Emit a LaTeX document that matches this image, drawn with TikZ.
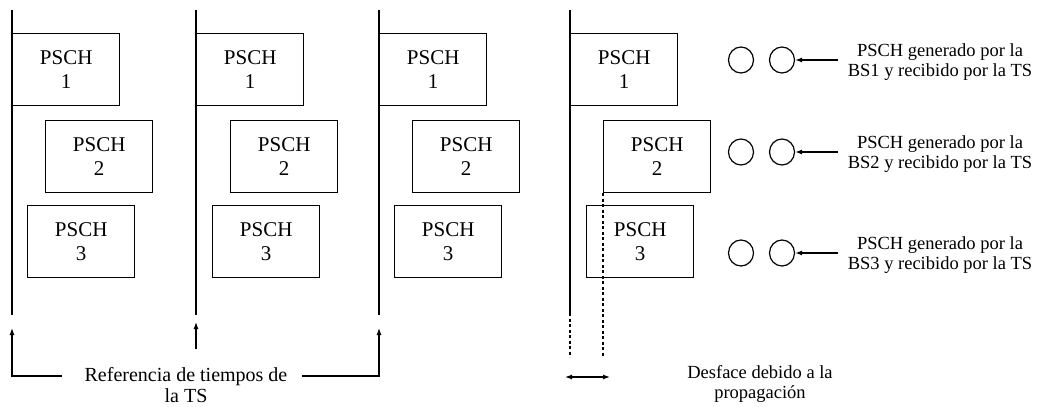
\documentclass[tikz,border=0pt]{standalone}
\usepackage{fontspec}
\setmainfont{Liberation Serif}
\usetikzlibrary{arrows.meta,shapes.geometric}
\begin{document}
\begin{tikzpicture}[x=1pt,y=-1pt,
  box/.style={draw,line width=1.4pt,minimum width=107pt,minimum height=72pt,anchor=north west,align=center,inner sep=0pt,
    font=\fontsize{21}{24}\selectfont},
  tline/.style={line width=1.2pt},
  dline/.style={line width=1.2pt,dash pattern=on 3pt off 2.5pt},
  arr/.style={line width=1.2pt,-{Latex[length=7pt,width=5pt]}},
  darr/.style={line width=1.2pt,{Latex[length=7pt,width=5pt]}-{Latex[length=7pt,width=5pt]}},
  ring/.style={draw,line width=1.2pt,ellipse,minimum width=25pt,minimum height=26pt,inner sep=0pt},
  lbl/.style={align=center,font=\fontsize{18.5}{20.5}\selectfont,inner sep=0pt},
  txt/.style={align=center,font=\fontsize{20}{20.5}\selectfont,inner sep=0pt}]
\useasboundingbox (0,0) rectangle (1045,407);
% group 1
\coordinate (t1) at (12,10); \coordinate (e1) at (12,315);
\draw[tline] (t1) -- (e1);
\node[box] (b11) at (12,33) {PSCH\\1};
\node[box] (b12) at (45,120) {PSCH\\2};
\node[box] (b13) at (27,205) {PSCH\\3};
% group 2
\coordinate (t2) at (196,10); \coordinate (e2) at (196,315);
\draw[tline] (t2) -- (e2);
\node[box] (b21) at (196,33) {PSCH\\1};
\node[box] (b22) at (230,120) {PSCH\\2};
\node[box] (b23) at (212,205) {PSCH\\3};
% group 3
\coordinate (t3) at (379,10); \coordinate (e3) at (379,315);
\draw[tline] (t3) -- (e3);
\node[box] (b31) at (379,33) {PSCH\\1};
\node[box] (b32) at (412,120) {PSCH\\2};
\node[box] (b33) at (394,205) {PSCH\\3};
% group 4
\coordinate (t4) at (570,10); \coordinate (e4) at (570,313);
\draw[tline] (t4) -- (e4);
\node[box] (b41) at (570,33) {PSCH\\1};
\node[box] (b42) at (603,120) {PSCH\\2};
\node[box] (b43) at (586,205) {PSCH\\3};
\coordinate (d4) at (570,357);
\draw[dline] (e4) -- (d4);
\coordinate (d5) at (603,357);
\draw[dline] (b42.south west) -- (d5);
% reference text and arrows
\node[txt] (ref) at (186,385) {Referencia de tiempos de\\la TS};
\coordinate (rl) at (62,376); \coordinate (a1) at (12,328);
\draw[arr] (rl) -| (a1);
\coordinate (rr) at (302,376); \coordinate (a3) at (379,328);
\draw[arr] (rr) -| (a3);
\coordinate (r2) at (196,349); \coordinate (a2) at (196,322);
\draw[arr] (r2) -- (a2);
% propagation offset
\coordinate (p1) at (565,377); \coordinate (p2) at (610,377);
\draw[darr] (p1) -- (p2);
\node[lbl] (desf) at (760,384) {Desface debido a la\\propagación};
% legend circles
\node[ring] (c11) at (741,60) {};
\node[ring] (c12) at (782,60) {};
\node[lbl] (l1) at (940,62) {PSCH generado por la\\BS1 y recibido por la TS};
\coordinate (s1) at (838,60);
\draw[arr] (s1) -- (c12.east);
\node[ring] (c21) at (741,152) {};
\node[ring] (c22) at (782,152) {};
\node[lbl] (l2) at (940,154) {PSCH generado por la\\BS2 y recibido por la TS};
\coordinate (s2) at (838,152);
\draw[arr] (s2) -- (c22.east);
\node[ring] (c31) at (741,253) {};
\node[ring] (c32) at (782,253) {};
\node[lbl] (l3) at (940,255) {PSCH generado por la\\BS3 y recibido por la TS};
\coordinate (s3) at (838,253);
\draw[arr] (s3) -- (c32.east);
\end{tikzpicture}
\end{document}
